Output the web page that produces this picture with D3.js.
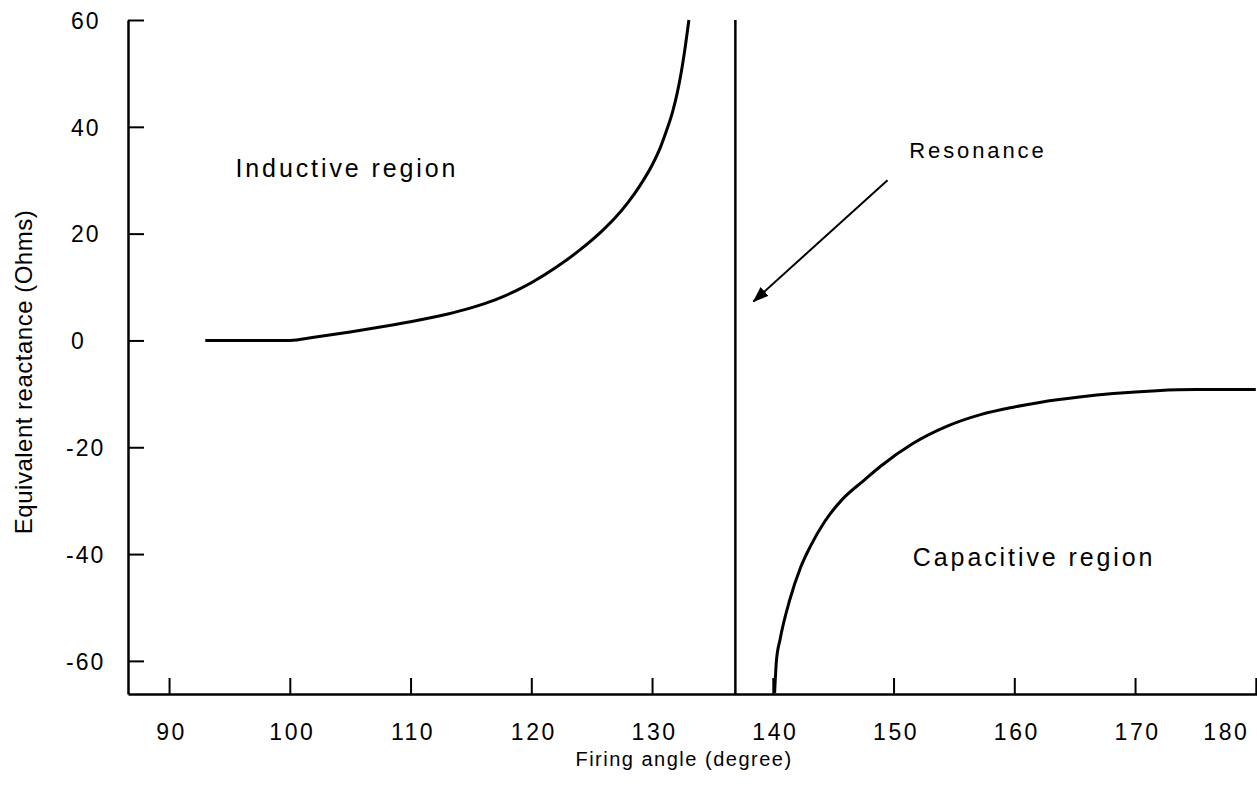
<!DOCTYPE html>
<html>
<head>
<meta charset="utf-8">
<script src="https://cdn.jsdelivr.net/npm/d3@7"></script>
<style>
  body { margin: 0; background: #fff; }
  text { font-family: "Liberation Sans", Arial, sans-serif; fill: #000; }
</style>
</head>
<body>
<div id="chart"></div>
<script>
// firing angle (deg) / equivalent reactance (Ohms)
let inductiveAngle = [93, 96, 100, 102, 105, 108, 110, 113, 115, 117, 119, 120, 122, 124, 126, 127, 128, 129, 130, 130.7, 131.2, 131.7, 132.1, 132.4, 132.7, 133.05]
let inductiveX = [0, 0, 0, 0.6, 1.6, 2.7, 3.5, 4.9, 6.1, 7.6, 9.6, 10.8, 13.6, 16.9, 20.8, 23.1, 25.8, 29, 32.8, 36.2, 39.3, 42.8, 46.5, 50, 54.2, 60]

let capacitiveAngle = [140.15, 140.3, 140.6, 141.4, 142.3, 143.1, 144.3, 145.7, 147.6, 148.9, 151.6, 154.4, 157.2, 159.9, 162.1, 165.4, 168.2, 171.8, 175, 180]
let capacitiveX = [-66, -60, -56, -48.6, -42.5, -38.6, -33.9, -29.9, -26.1, -23.6, -19.3, -16.1, -13.9, -12.5, -11.6, -10.6, -9.95, -9.4, -9.2, -9.2]

let resonanceAngle = 136.9

let xTicks = [90, 100, 110, 120, 130, 140, 150, 160, 170, 180]
let yTicks = [60, 40, 20, 0, -20, -40, -60]

let labels = [
  {"text": "Inductive region", "angle": 95.5, "value": 30.6, "size": 25, "spacing": 2.9},
  {"text": "Resonance", "angle": 151.3, "value": 34.2, "size": 22, "spacing": 2.9},
  {"text": "Capacitive region", "angle": 151.6, "value": -42.2, "size": 25, "spacing": 2.9}
]
let arrowFrom = [149.5, 30]
let arrowTo = [138.4, 7.3]

let svg = d3.select("#chart")
.append("svg")
.attr("width", 1257)
.attr("height", 799)

let x = d3.scaleLinear()
.domain([86.6, 180.1])
.range([128, 1257])

let y = d3.scaleLinear()
.domain([-66.2, 60])
.range([694, 20])

// X axis
let xAxis = svg.append("g")
.attr("transform", "translate(0," + y(-66.2) + ")")
.call(d3.axisBottom(x)
.tickValues(xTicks)
.tickSize(-16)
.tickSizeOuter(0)
.tickFormat(d => String(d)))
xAxis.select(".domain").attr("stroke-width", 2.5)
xAxis.selectAll(".tick line").attr("stroke-width", 2)
xAxis.selectAll(".tick text")
.attr("y", 46)
.attr("dy", 0)
.attr("x", d => d == 180 ? -30 : 2)
.style("font-size", "23px")
.style("letter-spacing", "2.5px")

// Y axis
let yAxis = svg.append("g")
.attr("transform", "translate(" + x(86.6) + ",0)")
.call(d3.axisLeft(y)
.tickValues(yTicks)
.tickSize(-16)
.tickSizeOuter(0)
.tickFormat(d => String(d)))
yAxis.select(".domain").attr("stroke-width", 2.5)
yAxis.selectAll(".tick line").attr("stroke-width", 2)
yAxis.selectAll(".tick text")
.attr("x", d => d < 0 ? -62 : -57)
.attr("text-anchor", "start")
.attr("dy", "0.36em")
.style("font-size", "23px")
.style("letter-spacing", "2px")

// Axis titles
svg.append("text")
.attr("x", 684)
.attr("y", 766)
.attr("text-anchor", "middle")
.style("font-size", "20px")
.style("letter-spacing", "1.5px")
.text("Firing angle (degree)")

svg.append("text")
.attr("transform", "translate(32,372) rotate(-90)")
.attr("text-anchor", "middle")
.style("font-size", "24px")
.style("letter-spacing", "0.5px")
.text("Equivalent reactance (Ohms)")

// Curves
let line = d3.line()
.x(d => x(d[0]))
.y(d => y(d[1]))
.curve(d3.curveMonotoneX)

svg.append("path")
.datum(d3.zip(inductiveAngle, inductiveX))
.attr("d", line)
.attr("fill", "none")
.attr("stroke", "#000")
.attr("stroke-width", 3)

svg.append("path")
.datum(d3.zip(capacitiveAngle, capacitiveX))
.attr("d", line)
.attr("fill", "none")
.attr("stroke", "#000")
.attr("stroke-width", 3)

// Resonance line
svg.append("line")
.attr("x1", x(resonanceAngle))
.attr("x2", x(resonanceAngle))
.attr("y1", y(60))
.attr("y2", y(-66.2))
.attr("stroke", "#000")
.attr("stroke-width", 2.5)

// Arrow
svg.append("defs")
.append("marker")
.attr("id", "head")
.attr("markerUnits", "userSpaceOnUse")
.attr("viewBox", "0 0 16 12")
.attr("refX", 15)
.attr("refY", 6)
.attr("markerWidth", 16)
.attr("markerHeight", 12)
.attr("orient", "auto")
.append("path")
.attr("d", "M0,0L16,6L0,12Z")
.attr("fill", "#000")

svg.append("line")
.attr("x1", x(arrowFrom[0]))
.attr("y1", y(arrowFrom[1]))
.attr("x2", x(arrowTo[0]))
.attr("y2", y(arrowTo[1]))
.attr("stroke", "#000")
.attr("stroke-width", 2)
.attr("marker-end", "url(#head)")

// Region labels
svg.selectAll(".region")
.data(labels)
.enter()
.append("text")
.attr("class", "region")
.attr("x", d => x(d.angle))
.attr("y", d => y(d.value))
.style("font-size", d => d.size + "px")
.style("letter-spacing", d => d.spacing + "px")
.text(d => d.text)
</script>
</body>
</html>
